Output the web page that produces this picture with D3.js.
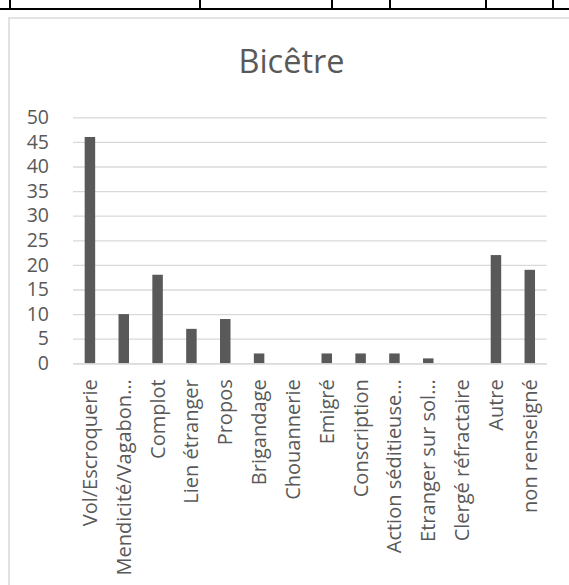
<!DOCTYPE html>
<html>
<head>
<meta charset="utf-8">
<script src="https://cdn.jsdelivr.net/npm/d3@7"></script>
<style>
    body { margin: 0; background: #fff; }
    svg { display: block; font-family: "Open Sans", sans-serif; }
</style>
</head>
<body>
<div id="chart"></div>
<script>
let categories = ["Vol/Escroquerie", "Mendicité/Vagabon…", "Complot", "Lien étranger", "Propos",
    "Brigandage", "Chouannerie", "Emigré", "Conscription", "Action séditieuse…",
    "Etranger sur sol…", "Clergé réfractaire", "Autre", "non renseigné"];
let counts = [46, 10, 18, 7, 9, 2, 0, 2, 2, 2, 1, 0, 22, 19];
let yTicks = [0, 5, 10, 15, 20, 25, 30, 35, 40, 45, 50];
let title = "Bicêtre";
// column borders of the table above the chart
let tableCols = [10, 200, 332, 390, 486, 553];

let width = 569;
let height = 585;
let plotLeft = 73, plotRight = 546.7, plotTop = 117.3, plotBottom = 363.3;

let svg = d3.select("#chart")
    .append("svg")
    .attr("width", width)
    .attr("height", height);

// table fragment at the top
svg.append("line")
    .attr("x1", 0).attr("x2", width)
    .attr("y1", 9).attr("y2", 9)
    .attr("stroke", "#000").attr("stroke-width", 2);
svg.selectAll(".tcol")
    .data(tableCols)
    .enter().append("line")
    .attr("class", "tcol")
    .attr("x1", d => d).attr("x2", d => d)
    .attr("y1", 0).attr("y2", 10)
    .attr("stroke", "#000").attr("stroke-width", 2);

// chart frame (runs past the right and bottom edges)
svg.append("rect")
    .attr("x", 9).attr("y", 18)
    .attr("width", 600).attr("height", 600)
    .attr("fill", "#fff")
    .attr("stroke", "#d9d9d9").attr("stroke-width", 1.5);

let x = d3.scaleBand()
    .domain(categories)
    .range([plotLeft, plotRight])
    .paddingInner(0.69)
    .paddingOuter(0.345);

let y = d3.scaleLinear()
    .domain([0, 50])
    .range([plotBottom, plotTop]);

// gridlines + y labels
let yAxis = svg.append("g")
    .attr("transform", `translate(${plotLeft},0)`)
    .call(d3.axisLeft(y).tickValues(yTicks).tickSize(-(plotRight - plotLeft)).tickPadding(24));
yAxis.select(".domain").remove();
yAxis.selectAll("line").attr("stroke", "#d9d9d9").attr("stroke-width", 1.3);
yAxis.selectAll("text")
    .attr("fill", "#595959")
    .style("font-size", "19.5px")
    .style("font-family", "Open Sans");

svg.selectAll(".bar")
    .data(counts)
    .enter().append("rect")
    .attr("class", "bar")
    .attr("x", (d, i) => x(categories[i]))
    .attr("y", d => y(d))
    .attr("width", x.bandwidth())
    .attr("height", d => plotBottom - y(d))
    .attr("fill", "#595959");

// category labels, rotated
let xAxis = svg.append("g")
    .attr("transform", `translate(0,${plotBottom})`)
    .call(d3.axisBottom(x).tickSize(0).tickPadding(0));
xAxis.select(".domain").attr("stroke", "#d9d9d9").attr("stroke-width", 1.3);
xAxis.selectAll("text")
    .attr("fill", "#595959")
    .style("font-size", "20px")
    .style("font-family", "Open Sans")
    .attr("text-anchor", "end")
    .attr("transform", "rotate(-90)")
    .attr("x", -16)
    .attr("y", 0)
    .attr("dy", "0.35em");

svg.append("text")
    .attr("x", 291.5)
    .attr("y", 73)
    .attr("text-anchor", "middle")
    .attr("fill", "#595959")
    .style("font-size", "32.5px")
    .text(title);
</script>
</body>
</html>
